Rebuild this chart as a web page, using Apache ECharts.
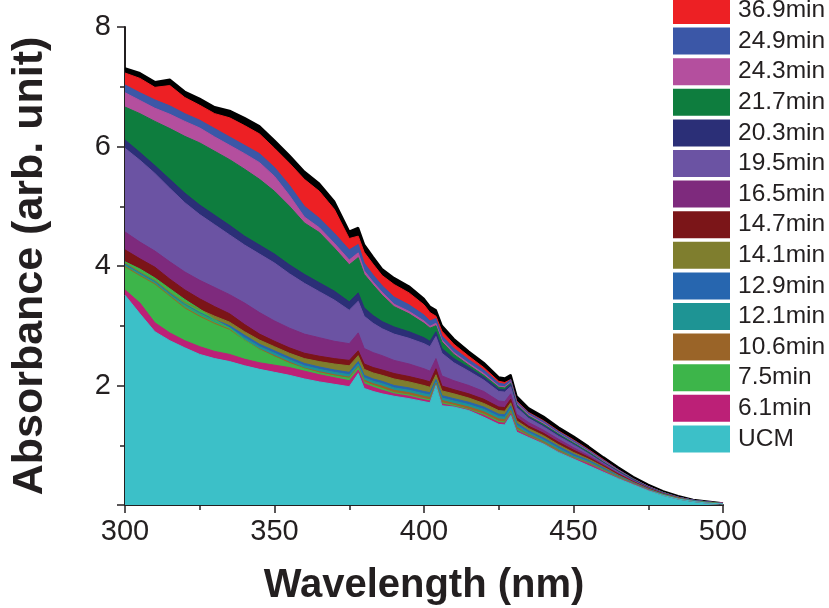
<!DOCTYPE html>
<html><head><meta charset="utf-8">
<script src="https://cdn.jsdelivr.net/npm/echarts@6/dist/echarts.min.js"></script>
<style>html,body{margin:0;padding:0;background:#fff}#c{width:829px;height:608px}</style>
</head><body><div id="c"></div>
<script>
const wavelengths = [300,305,310,315,320,325,330,335,340,345,350,355,360,365,370,375,378,380,383,386,390,395,400,402,404,406,410,415,420,425,427,429,431,435,440,445,450,455,460,465,470,475,480,485,490,495,500];
const xTicks = [300,350,400,450,500];
const yTicks = [2,4,6,8];
const legendNames = ['36.9min','24.9min','24.3min','21.7min','20.3min','19.5min','16.5min','14.7min','14.1min','12.9min','12.1min','10.6min','7.5min','6.1min','UCM'];
const colors = ['#ED2024','#3B57A7','#B44F9E','#0E7D3E','#2B2F77','#6B53A3','#7E2A7D','#7B1518','#7F7E2E','#2766AF','#1E9494','#9A6428','#3DB54A','#BC2077','#3CC0C8'];
const topEdge = [7.31,7.23,7.08,7.12,6.92,6.80,6.66,6.60,6.48,6.34,6.10,5.85,5.58,5.38,5.08,4.58,4.64,4.36,4.15,3.95,3.80,3.66,3.45,3.32,3.26,3.00,2.78,2.57,2.38,2.14,2.12,2.18,1.82,1.62,1.48,1.30,1.15,0.98,0.80,0.63,0.47,0.34,0.23,0.15,0.09,0.06,0.03];
const min36_9 = [7.23,7.14,6.99,7.02,6.82,6.69,6.55,6.48,6.35,6.21,5.97,5.72,5.45,5.25,4.95,4.46,4.50,4.23,4.03,3.84,3.69,3.55,3.35,3.22,3.16,2.91,2.69,2.49,2.30,2.07,2.05,2.10,1.74,1.55,1.41,1.24,1.09,0.93,0.76,0.59,0.44,0.31,0.21,0.13,0.08,0.05,0.03];
const min24_9 = [7.03,6.90,6.78,6.68,6.55,6.44,6.30,6.16,6.02,5.88,5.65,5.35,5.00,4.80,4.55,4.27,4.36,4.05,3.85,3.67,3.48,3.35,3.18,3.08,3.12,2.83,2.62,2.43,2.26,2.04,2.02,2.10,1.73,1.54,1.40,1.23,1.08,0.92,0.75,0.59,0.44,0.31,0.21,0.13,0.08,0.05,0.03];
const min24_3 = [6.90,6.77,6.64,6.54,6.42,6.31,6.16,6.02,5.88,5.73,5.50,5.18,4.82,4.64,4.38,4.10,4.22,3.92,3.73,3.56,3.36,3.24,3.08,2.99,3.04,2.76,2.55,2.37,2.20,1.99,1.98,2.06,1.70,1.51,1.37,1.20,1.05,0.90,0.73,0.58,0.43,0.31,0.21,0.13,0.08,0.05,0.03];
const min21_7 = [6.66,6.55,6.42,6.30,6.17,6.06,5.92,5.78,5.62,5.45,5.25,5.00,4.72,4.56,4.30,4.02,4.14,3.86,3.68,3.51,3.32,3.20,3.04,2.96,3.00,2.73,2.52,2.34,2.17,1.97,1.96,2.04,1.68,1.49,1.35,1.19,1.04,0.89,0.72,0.57,0.43,0.30,0.21,0.13,0.08,0.05,0.02];
const min20_3 = [6.11,5.90,5.68,5.45,5.22,5.02,4.85,4.68,4.50,4.35,4.20,4.02,3.86,3.72,3.58,3.40,3.55,3.30,3.17,3.07,2.98,2.90,2.80,2.74,2.90,2.62,2.45,2.30,2.14,1.94,1.93,2.02,1.66,1.47,1.33,1.17,1.02,0.87,0.71,0.56,0.42,0.30,0.20,0.13,0.08,0.05,0.02];
const min19_5 = [5.97,5.77,5.55,5.30,5.06,4.86,4.69,4.52,4.35,4.20,4.05,3.87,3.71,3.57,3.43,3.26,3.41,3.16,3.04,2.95,2.86,2.79,2.70,2.65,2.82,2.54,2.38,2.24,2.09,1.90,1.89,1.98,1.63,1.45,1.31,1.15,1.01,0.86,0.70,0.55,0.41,0.29,0.20,0.13,0.08,0.05,0.02];
const min16_5 = [4.57,4.40,4.25,4.07,3.90,3.76,3.64,3.52,3.38,3.22,3.08,2.96,2.86,2.80,2.74,2.70,2.88,2.62,2.55,2.50,2.42,2.36,2.28,2.24,2.45,2.16,2.08,2.00,1.90,1.74,1.73,1.86,1.52,1.38,1.25,1.10,0.96,0.83,0.68,0.53,0.40,0.28,0.19,0.12,0.07,0.04,0.02];
const min14_7 = [4.27,4.12,3.98,3.78,3.60,3.45,3.32,3.20,3.02,2.86,2.74,2.63,2.54,2.49,2.45,2.42,2.58,2.36,2.30,2.26,2.20,2.15,2.09,2.06,2.28,1.99,1.93,1.86,1.77,1.64,1.63,1.77,1.46,1.32,1.20,1.05,0.92,0.80,0.66,0.52,0.39,0.28,0.19,0.12,0.07,0.04,0.02];
const min14_1 = [4.05,3.90,3.76,3.56,3.39,3.27,3.16,3.06,2.90,2.76,2.65,2.54,2.45,2.40,2.36,2.33,2.50,2.27,2.21,2.17,2.11,2.06,2.00,1.97,2.18,1.91,1.86,1.79,1.70,1.58,1.57,1.71,1.41,1.28,1.16,1.01,0.88,0.77,0.64,0.50,0.38,0.27,0.18,0.12,0.07,0.04,0.02];
const min12_9 = [4.03,3.88,3.74,3.54,3.36,3.22,3.10,3.00,2.84,2.69,2.58,2.47,2.37,2.31,2.26,2.22,2.40,2.17,2.11,2.07,2.00,1.96,1.90,1.88,2.10,1.83,1.78,1.72,1.64,1.52,1.51,1.66,1.37,1.24,1.12,0.98,0.85,0.75,0.62,0.49,0.37,0.26,0.18,0.11,0.07,0.04,0.02];
const min12_1 = [4.01,3.86,3.72,3.52,3.33,3.19,3.07,2.97,2.80,2.65,2.54,2.43,2.33,2.27,2.22,2.18,2.36,2.13,2.07,2.03,1.96,1.92,1.86,1.84,2.06,1.79,1.74,1.68,1.60,1.48,1.47,1.62,1.34,1.21,1.09,0.95,0.82,0.73,0.60,0.48,0.36,0.26,0.17,0.11,0.07,0.04,0.02];
const min10_6 = [3.99,3.84,3.70,3.50,3.30,3.16,3.04,2.94,2.76,2.61,2.50,2.39,2.29,2.23,2.18,2.14,2.32,2.09,2.03,1.99,1.92,1.88,1.82,1.80,2.04,1.75,1.70,1.64,1.56,1.44,1.43,1.58,1.30,1.18,1.06,0.92,0.80,0.71,0.59,0.47,0.36,0.25,0.17,0.11,0.06,0.04,0.02];
const min7_5 = [4.07,3.95,3.80,3.62,3.44,3.28,3.10,2.96,2.76,2.60,2.48,2.37,2.28,2.21,2.16,2.12,2.30,2.06,2.00,1.95,1.88,1.84,1.78,1.76,2.02,1.71,1.67,1.60,1.52,1.40,1.39,1.55,1.27,1.16,1.04,0.90,0.79,0.70,0.58,0.46,0.35,0.25,0.17,0.10,0.06,0.04,0.02];
const min6_1 = [3.60,3.38,3.05,2.88,2.75,2.65,2.57,2.52,2.44,2.38,2.34,2.30,2.24,2.18,2.13,2.08,2.26,2.03,1.97,1.92,1.86,1.82,1.76,1.74,2.01,1.69,1.65,1.59,1.50,1.38,1.37,1.53,1.25,1.15,1.03,0.89,0.78,0.69,0.57,0.45,0.35,0.25,0.16,0.10,0.06,0.03,0.02];
const ucm = [3.51,3.20,2.90,2.75,2.63,2.52,2.45,2.40,2.33,2.27,2.22,2.17,2.11,2.06,2.02,1.98,2.20,1.95,1.90,1.86,1.82,1.78,1.73,1.71,2.00,1.66,1.64,1.58,1.47,1.35,1.34,1.50,1.22,1.13,1.02,0.88,0.77,0.66,0.55,0.44,0.34,0.24,0.16,0.10,0.06,0.03,0.02];

const seriesValues = [min36_9,min24_9,min24_3,min21_7,min20_3,min19_5,min16_5,min14_7,min14_1,min12_9,min12_1,min10_6,min7_5,min6_1,ucm];

function areaSeries(name, vals, color) {
  return {
    name: name, type: 'line', showSymbol: false, symbol: 'none', smooth: false,
    color: color, itemStyle: {color: color},
    lineStyle: {color: color, width: 1},
    areaStyle: {color: color, opacity: 1},
    data: wavelengths.map((w, i) => [w, vals[i]]),
    silent: true
  };
}
const series = [areaSeries('edge', topEdge, '#000000')];
series[0].lineStyle.width = 2;
legendNames.forEach((n, i) => series.push(areaSeries(n, seriesValues[i], colors[i])));

const font = "'Liberation Sans', Arial, Helvetica, sans-serif";
const chart = echarts.init(document.getElementById('c'), null, {renderer: 'canvas'});
chart.setOption({
  animation: false,
  backgroundColor: '#ffffff',
  grid: {left: 125, right: 106, top: 27, bottom: 103, containLabel: false, outerBoundsMode: 'none'},
  legend: {
    data: legendNames, orient: 'vertical', left: 673, top: -3, padding: 0,
    icon: 'rect', itemWidth: 57, itemHeight: 27, itemGap: 3.6, selectedMode: false,
    textStyle: {fontFamily: font, fontSize: 24.5, color: '#231F20', lineHeight: 27, padding: [0,0,0,3]}
  },
  xAxis: {
    type: 'value', min: xTicks[0], max: xTicks[xTicks.length-1], interval: 50,
    name: 'Wavelength (nm)', nameLocation: 'middle', nameGap: 61,
    nameTextStyle: {fontFamily: font, fontSize: 40, fontWeight: 'bold', color: '#231F20', verticalAlign: 'top'},
    axisLine: {onZero: false, lineStyle: {color: '#231F20', width: 2}},
    axisTick: {inside: false, length: 8, lineStyle: {width: 1.5, color: '#231F20'}},
    minorTick: {show: true, splitNumber: 2, length: 5, lineStyle: {width: 1.5, color: '#231F20'}},
    axisLabel: {fontFamily: font, fontSize: 29, color: '#231F20', margin: 12},
    splitLine: {show: false}
  },
  yAxis: {
    type: 'value', min: 0, max: 8, interval: 2,
    name: 'Absorbance (arb. unit)', nameLocation: 'middle', nameGap: 73, nameRotate: 90,
    nameTextStyle: {fontFamily: font, fontSize: 43, fontWeight: 'bold', color: '#231F20'},
    axisLine: {show: true, lineStyle: {color: '#231F20', width: 2}},
    axisTick: {inside: false, length: 8, lineStyle: {width: 1.5, color: '#231F20'}},
    minorTick: {show: true, splitNumber: 2, length: 5, lineStyle: {width: 1.5, color: '#231F20'}},
    axisLabel: {fontFamily: font, fontSize: 29, color: '#231F20', margin: 14,
      formatter: v => (yTicks.indexOf(v) >= 0 ? String(v) : '')},
    splitLine: {show: false}
  },
  series: series
});
</script>
</body></html>
